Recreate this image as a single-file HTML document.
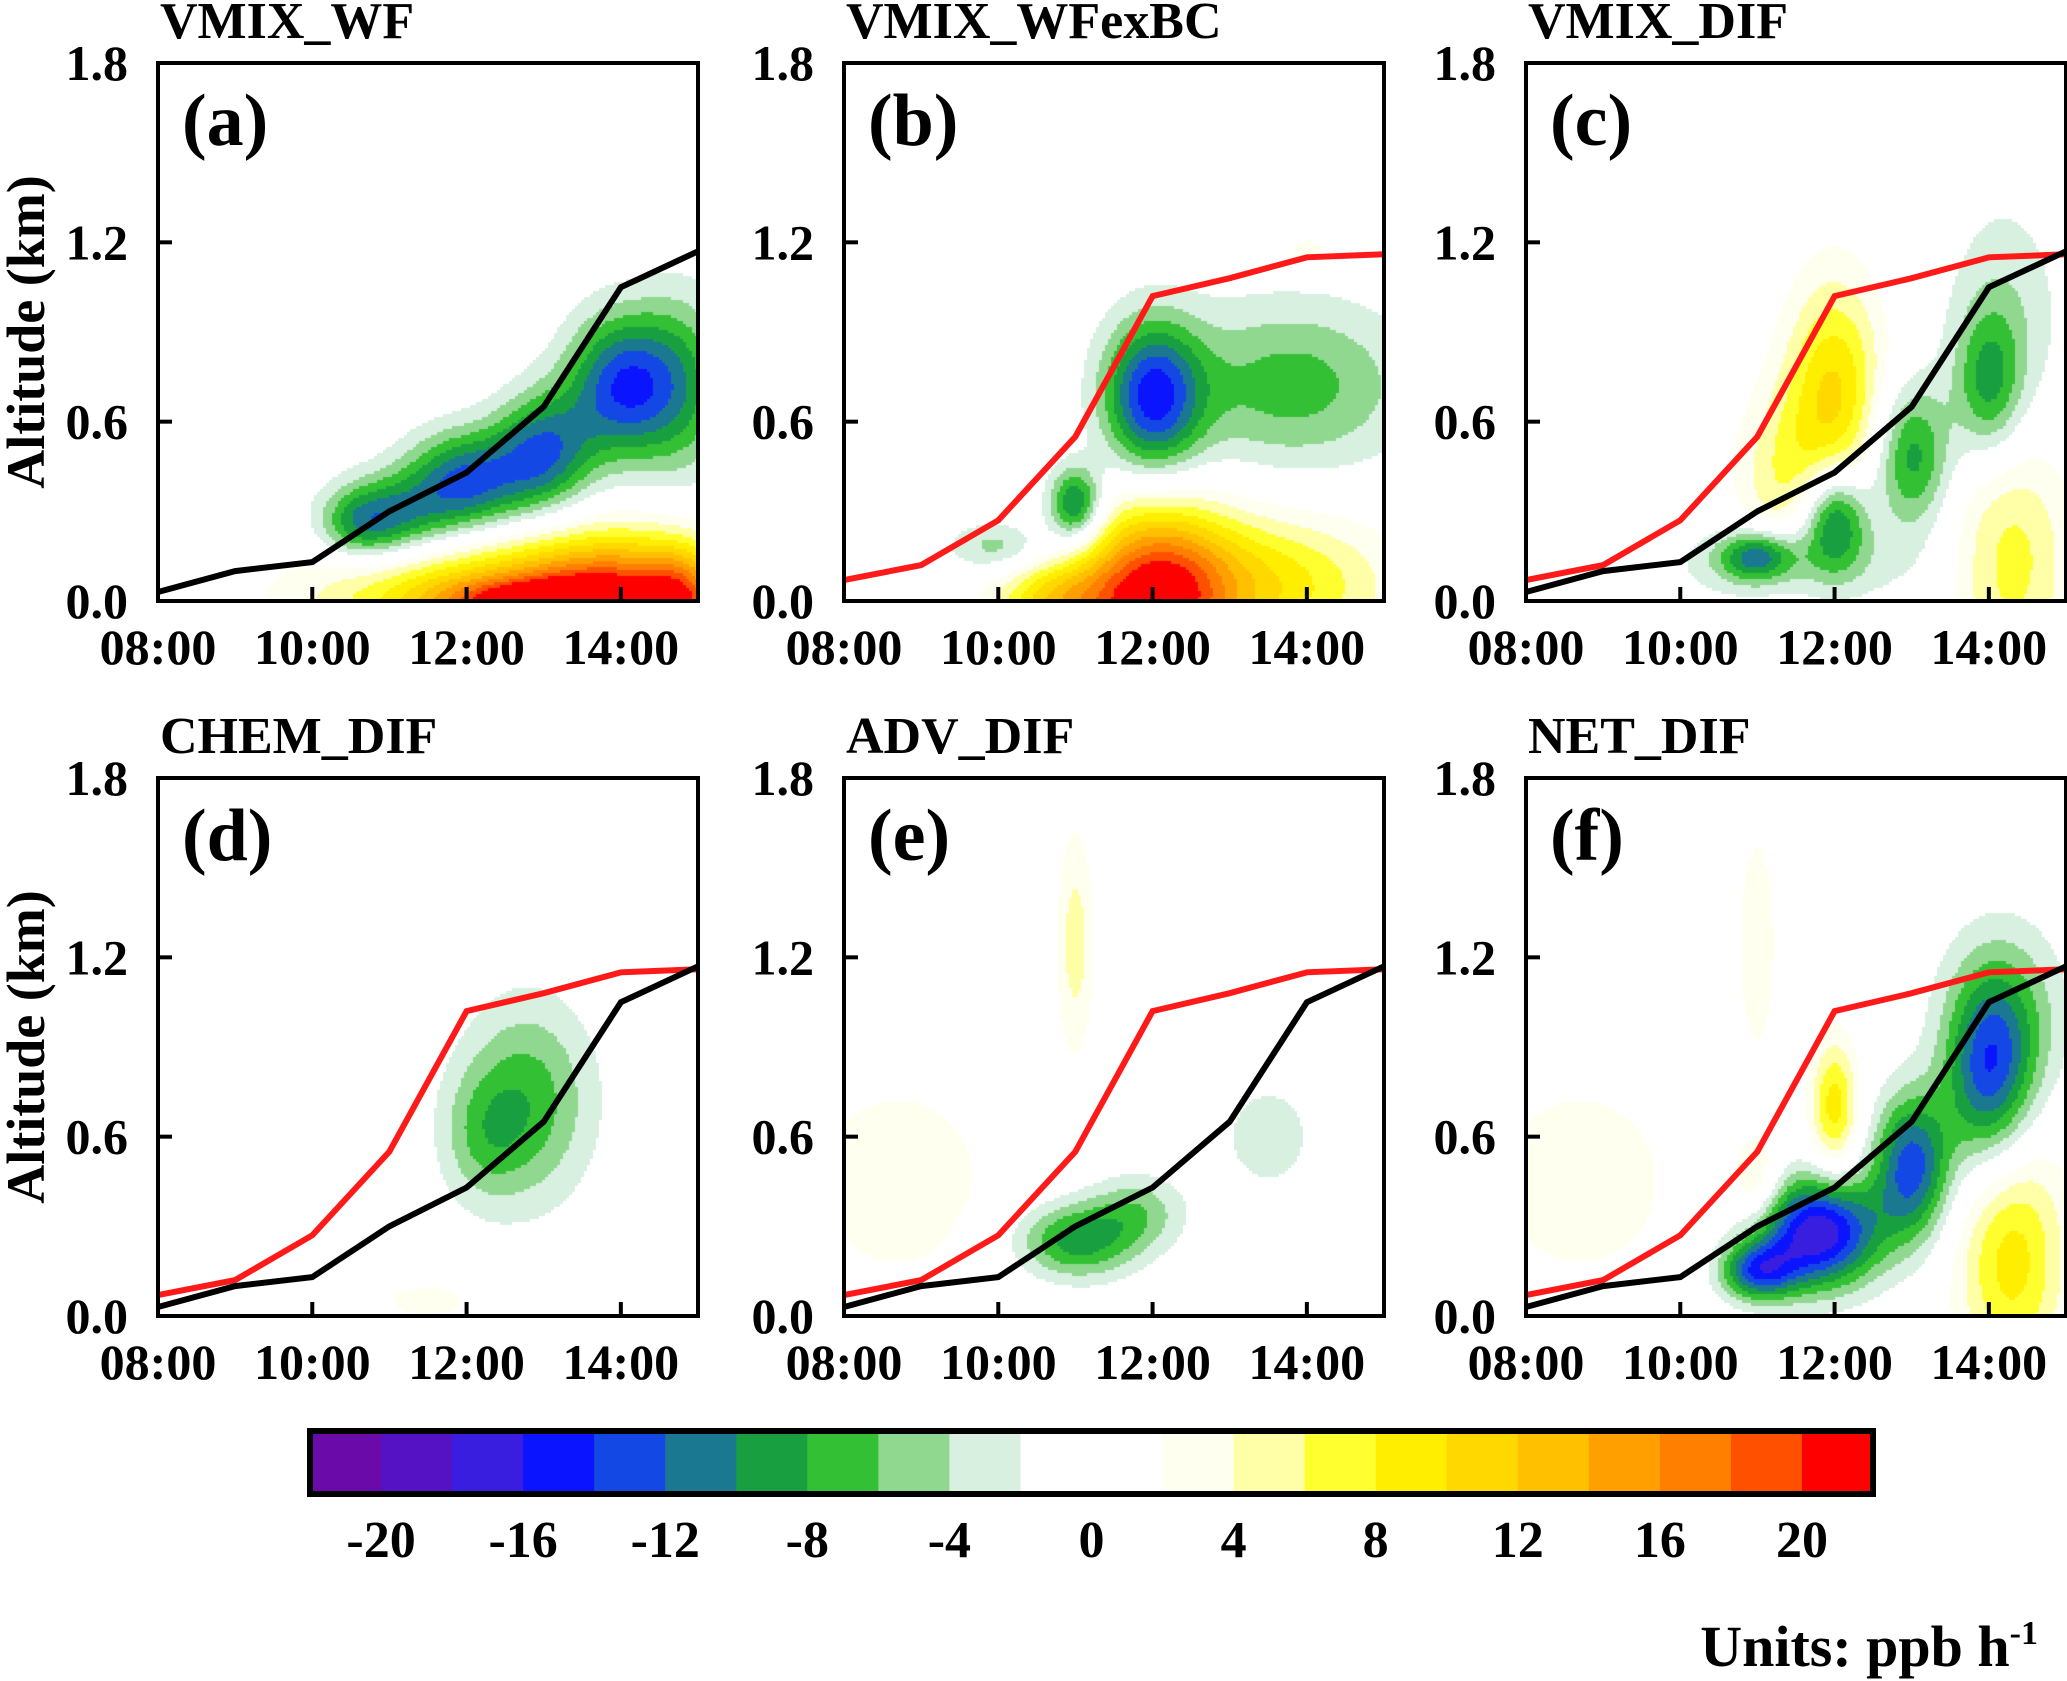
<!DOCTYPE html>
<html><head><meta charset="utf-8"><style>
html,body{margin:0;padding:0;background:#fff;width:2067px;height:1681px;overflow:hidden;font-family:"Liberation Serif",serif;font-weight:bold}
svg text{font-family:"Liberation Serif",serif;font-weight:bold}
canvas{position:absolute}
</style></head><body>
<div id="wrap" style="position:relative;width:2067px;height:1681px">
<svg id="svg" width="2067" height="1681" style="position:absolute;left:0;top:0"></svg>
</div>
<script>
const hours=[8,9,10,11,12,13,14,15];
const blackPBL=[0.03,0.1,0.13,0.3,0.43,0.65,1.05,1.17];
const redPBL=[0.07,0.12,0.27,0.55,1.02,1.08,1.15,1.16];
const xTicks=["08:00","10:00","12:00","14:00"];
const xTickVals=[8,10,12,14];
const yTicks=[0,0.6,1.2,1.8];
const yTickLabels=["0.0","0.6","1.2","1.8"];
const cbLabels=[-20,-16,-12,-8,-4,0,4,8,12,16,20];
const cbColors=["#6a0aa8","#5412c4","#3a1ee0","#0a14ff","#1448e4","#1a7890","#18a040","#34c034","#90d890","#d8f0e0","#ffffff","#ffffff","#fffff0","#ffffa8","#ffff30","#ffee00","#ffd800","#ffc000","#ffa000","#ff8000","#ff5000","#ff0000"];
const titles=["VMIX_WF","VMIX_WFexBC","VMIX_DIF","CHEM_DIF","ADV_DIF","NET_DIF"];
const letters=["(a)","(b)","(c)","(d)","(e)","(f)"];
const showBlack=[true,false,true,true,true,true];
const showRed=[false,true,true,true,true,true];
// blobs: [hour, altitude, sigmaHour, sigmaAlt, amplitude]
const fieldA=[[11,0.28,0.55,0.1,-9],[12,0.4,0.55,0.12,-12],[13,0.5,0.45,0.14,-11],[14,0.72,0.5,0.17,-13],[14.8,0.72,0.45,0.22,-7],[10.6,0.25,0.35,0.08,-5],[12.5,0,1.6,0.14,13],[14,0,0.9,0.16,14],[12.8,0,0.8,0.05,9],[14.8,0,0.35,0.12,8]];
const fieldB=[[12,0.68,0.45,0.18,-14],[11,0.32,0.25,0.09,-12],[13.8,0.72,1.1,0.2,-7],[10,0.18,0.45,0.06,-5],[12,0,0.7,0.22,20],[13.5,0.05,1.1,0.17,9],[10.7,0,0.55,0.09,9],[14,1.17,0.3,0.05,3]];
const fieldC=[[12,0.7,0.45,0.27,10],[11.3,0.4,0.45,0.22,5],[14.3,0.15,0.55,0.32,7],[12,0.28,0.3,0.12,-12],[11,0.15,0.35,0.06,-10],[13,0.48,0.35,0.17,-9],[14,0.72,0.3,0.17,-7],[14.2,0.9,0.55,0.32,-4],[11.5,0.12,1.1,0.1,-4]];
const fieldD=[[12.8,0.72,0.6,0.24,-7],[12.2,0.6,0.4,0.16,-4],[11.5,0.05,0.5,0.05,3]];
const fieldE=[[11,0.25,0.55,0.09,-9],[11.8,0.35,0.45,0.09,-5],[13.5,0.6,0.5,0.15,-3],[11,1.25,0.18,0.27,5],[8.7,0.45,1.1,0.3,3]];
const fieldF=[[11.8,0.28,0.55,0.13,-18],[13,0.5,0.35,0.17,-13],[14,0.78,0.4,0.22,-11],[14.2,1.0,0.55,0.22,-6],[11,0.15,0.35,0.07,-12],[12,0.7,0.22,0.16,9],[11,1.25,0.18,0.27,4],[14.3,0.2,0.5,0.3,9],[11,0.45,0.22,0.1,5],[8.7,0.45,1.1,0.3,3]];
const fields=[fieldA,fieldB,fieldC,fieldD,fieldE,fieldF];

const NS="http://www.w3.org/2000/svg";
const svg=document.getElementById('svg');
const wrap=document.getElementById('wrap');
function el(tag,attrs,parent){const e=document.createElementNS(NS,tag);for(const k in attrs)e.setAttribute(k,attrs[k]);(parent||svg).appendChild(e);return e;}
const colL=[158,844,1526],rowT=[63,778],W=540,H=538;
function levelColor(v){let i=Math.floor((v+22)/2);if(i<0)i=0;if(i>21)i=21;return cbColors[i];}
for(let p=0;p<6;p++){
  const L=colL[p%3],T=rowT[Math.floor(p/3)];
  const xs=h=>L+(h-8)/7*W, ys=a=>T+H-a/1.8*H;
  const g=el('g',{});
  
  
  const cv=document.createElement('canvas');cv.width=W;cv.height=H;cv.style.left=L+'px';cv.style.top=T+'px';
  
  
  wrap.insertBefore(cv,svg);
  const ctx=cv.getContext('2d');const f=fields[p];const step=3;
  for(let px=0;px<W;px+=step)for(let py=0;py<H;py+=step){
    const h=8+(px+step/2)/W*7,a=(H-py-step/2)/H*1.8;let v=0;
    for(const b of f){const dx=(h-b[0])/b[2],dy=(a-b[1])/b[3];v+=b[4]*Math.exp(-0.5*(dx*dx+dy*dy));}
    if(Math.abs(v)<2)continue;ctx.fillStyle=levelColor(v);ctx.fillRect(px,py,step,step);
  }
  function line(arr,color,name){
    const d=arr.map((v,i)=>(i?'L':'M')+xs(hours[i]).toFixed(1)+' '+ys(v).toFixed(1)).join(' ');
    const pth=el('path',{d:d,fill:'none',stroke:color,'stroke-width':6,'stroke-linejoin':'miter'},g);
    
    
  }
  if(showRed[p])line(redPBL,'#ff1a1a','red-pbl-line');
  if(showBlack[p])line(blackPBL,'#000','black-pbl-line');
  const box=el('rect',{x:L,y:T,width:W,height:H,fill:'none',stroke:'#000','stroke-width':4},g);
  
  
  yTicks.forEach((v,i)=>{
    if(i>0&&i<3)el('line',{x1:L,x2:L+14,y1:ys(v),y2:ys(v),stroke:'#000','stroke-width':4},g);
    const t=el('text',{x:L-30,y:ys(v)+17,'font-size':50,'text-anchor':'end'},g);t.textContent=yTickLabels[i];
    
    
  });
  xTickVals.forEach((v,i)=>{
    if(i>0)el('line',{x1:xs(v),x2:xs(v),y1:T+H,y2:T+H-14,stroke:'#000','stroke-width':4},g);
    const t=el('text',{x:xs(v),y:T+H+63,'font-size':50,'text-anchor':'middle'},g);t.textContent=xTicks[i];
    
    
  });
  const tt=el('text',{x:L+2,y:T-25,'font-size':52},g);tt.textContent=titles[p];
  
  
  const lt=el('text',{x:L+24,y:T+82,'font-size':74},g);lt.textContent=letters[p];
  
  
  if(p%3===0){
    const yt=el('text',{x:0,y:0,'font-size':54,'text-anchor':'middle',transform:'translate(44,'+(T+H/2)+') rotate(-90)'},g);
    yt.textContent='Altitude (km)';
    
    
  }
}
const cbL=310,cbR=1873,cbT=1431,cbB=1494,cw=(cbR-cbL)/22;
const cb=el('g',{});


cbColors.forEach((c,i)=>{el('rect',{x:cbL+i*cw,y:cbT,width:cw+0.5,height:cbB-cbT,fill:c},cb);});
el('rect',{x:cbL,y:cbT,width:cbR-cbL,height:cbB-cbT,fill:'none',stroke:'#000','stroke-width':6},cb);
cbLabels.forEach(v=>{
  const t=el('text',{x:cbL+(v+22)/2*cw,y:1557,'font-size':52,'text-anchor':'middle'},cb);t.textContent=v;
  
  
});
const u=el('text',{x:2038,y:1666,'font-size':58,'text-anchor':'end'});
u.innerHTML='Units: ppb h<tspan dy="-22" font-size="34">-1</tspan>';


</script>
</body></html>
